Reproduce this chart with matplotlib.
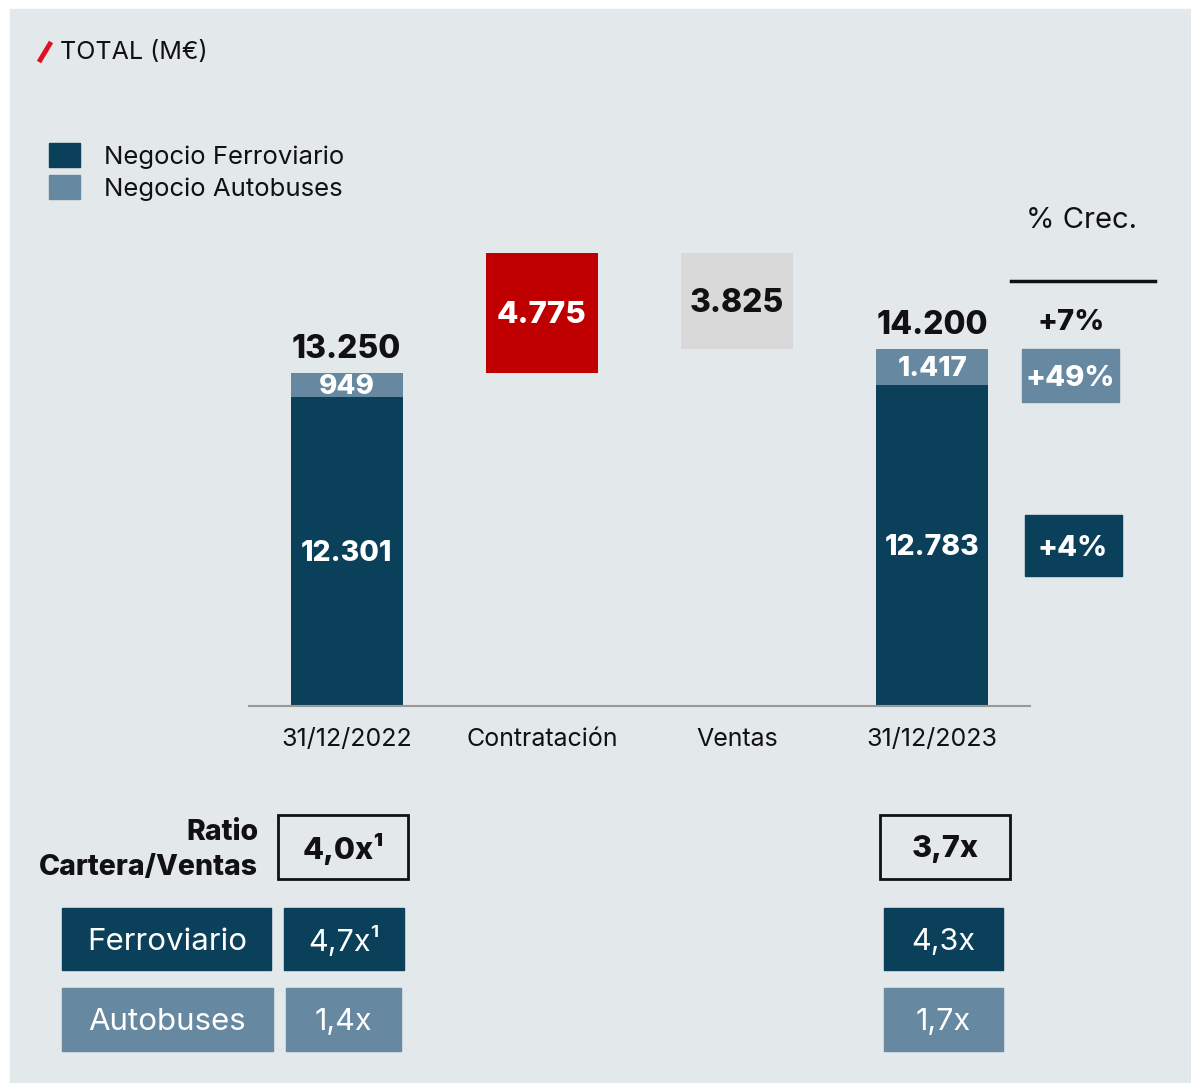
import matplotlib.pyplot as plt
from matplotlib.patches import Rectangle

plt.rcParams['font.family'] = ['Inter', 'DejaVu Sans']

# datos (M€)
categorias = ['31/12/2022', 'Contratación', 'Ventas', '31/12/2023']
ferroviario = [12301, 12783]   # 2022, 2023
autobuses = [949, 1417]
totales = [13250, 14200]
contratacion = 4775
ventas = 3825
crec_total = '+7%'
crec_auto = '+49%'
crec_ferro = '+4%'
ratio_total = ['4,0x¹', '3,7x']
ratio_ferro = ['4,7x¹', '4,3x']
ratio_auto = ['1,4x', '1,7x']

def fmt(v):
    return f'{v:,}'.replace(',', '.')

DARK = '#0a405a'
LIGHT = '#6688a0'
RED = '#c00000'
GREY = '#d9d9d9'
BG = '#e3e8eb'
INK = '#111111'
BOLD = 'heavy'
DY = 2  # ajuste vertical del texto (px)

W, H = 1191, 1083
fig = plt.figure(figsize=(W / 100, H / 100), dpi=100, facecolor='white')

# capa de fondo en pixeles
bg = fig.add_axes([0, 0, 1, 1])
bg.set_xlim(0, W)
bg.set_ylim(H, 0)
bg.axis('off')
bg.add_patch(Rectangle((10, 9), W - 10, H - 9, color=BG, zorder=0))

def txt(x, y, s, **kw):
    bg.text(x, y + DY, s, va='center', **kw)

# titulo
bg.plot([39, 51], [62, 42], color='#e01020', lw=3.5, solid_capstyle='butt')
txt(60, 51, 'TOTAL (M€)', fontsize=18, ha='left', color=INK)

# leyenda
for i, (lab, c) in enumerate([('Negocio Ferroviario', DARK), ('Negocio Autobuses', LIGHT)]):
    y = 143 + i * 32
    bg.add_patch(Rectangle((49, y), 31, 24, color=c))
    txt(104, y + 12, lab, fontsize=18.5, ha='left', color=INK)

# grafico de barras
ax_l, ax_r, ax_base, ax_top = 249, 1030, 706, 230
ax = fig.add_axes([ax_l / W, 1 - ax_base / H, (ax_r - ax_l) / W, (ax_base - ax_top) / H])
ax.set_facecolor('none')
px_per_unit = 333 / totales[0]
ax.set_xlim(-0.5, 3.5)
ax.set_ylim(0, (ax_base - ax_top) / px_per_unit)
for s in ['top', 'right', 'left']:
    ax.spines[s].set_visible(False)
ax.spines['bottom'].set_color('#999999')
ax.spines['bottom'].set_linewidth(1.5)
ax.set_yticks([])
ax.set_xticks(range(4))
ax.set_xticklabels(categorias, fontsize=18, color=INK)
ax.tick_params(axis='x', length=0, pad=15.5)

w = 0.573
xs = [0, 3]
ax.bar(xs, ferroviario, w, color=DARK)
ax.bar(xs, autobuses, w, bottom=ferroviario, color=LIGHT)
ax.bar(1, contratacion, w, bottom=totales[0], color=RED)
ax.bar(2, ventas, w, bottom=totales[0] + contratacion - ventas, color=GREY)

def lab(x, y, s, dy=0, **kw):
    ax.annotate(s, (x, y), xytext=(0, dy - DY), textcoords='offset pixels',
                ha='center', va='center', **kw)

for x, f, a, t in zip(xs, ferroviario, autobuses, totales):
    lab(x, f / 2, fmt(f), color='white', fontsize=20.5, fontweight=BOLD)
    lab(x, f + a / 2, fmt(a), color='white', fontsize=20, fontweight=BOLD)
    lab(x, t, fmt(t), dy=26, fontsize=23, fontweight=BOLD, color=INK)
lab(1, totales[0] + contratacion / 2, fmt(contratacion), color='white', fontsize=22.5, fontweight=BOLD)
lab(2, totales[0] + contratacion - ventas / 2, fmt(ventas), color=INK, fontsize=23, fontweight=BOLD)

# columna % crecimiento
txt(1082, 219, '% Crec.', fontsize=21, ha='center', color=INK)
bg.plot([1011, 1155], [281, 281], color=INK, lw=2.5)
txt(1071, 321, crec_total, fontsize=21, fontweight=BOLD, ha='center', color=INK)
bg.add_patch(Rectangle((1022, 349), 97, 53, color=LIGHT))
txt(1070, 376, crec_auto, fontsize=21, fontweight=BOLD, ha='center', color='white')
bg.add_patch(Rectangle((1025, 515), 97, 61, color=DARK))
txt(1073, 546, crec_ferro, fontsize=21, fontweight=BOLD, ha='center', color='white')

# tabla ratio cartera/ventas
txt(258, 831, 'Ratio', fontsize=20.5, fontweight=BOLD, ha='right', color=INK)
txt(258, 865, 'Cartera/Ventas', fontsize=20.5, fontweight=BOLD, ha='right', color=INK)
for (x0, x1), val in zip([(278, 408), (880, 1010)], ratio_total):
    bg.add_patch(Rectangle((x0, 815), x1 - x0, 64, facecolor='none', edgecolor=INK, lw=2))
    txt((x0 + x1) / 2, 847, val, fontsize=22, fontweight=BOLD, ha='center', color=INK)

bg.add_patch(Rectangle((62, 908), 209, 62, color=DARK))
txt(167, 940, 'Ferroviario', fontsize=22.5, ha='center', color='white')
for (x0, x1), val in zip([(284, 404), (884, 1003)], ratio_ferro):
    bg.add_patch(Rectangle((x0, 908), x1 - x0, 62, color=DARK))
    txt((x0 + x1) / 2, 940, val, fontsize=22, ha='center', color='white')

bg.add_patch(Rectangle((62, 988), 211, 63, color=LIGHT))
txt(167, 1020, 'Autobuses', fontsize=22.5, ha='center', color='white')
for (x0, x1), val in zip([(286, 401), (884, 1003)], ratio_auto):
    bg.add_patch(Rectangle((x0, 988), x1 - x0, 63, color=LIGHT))
    txt((x0 + x1) / 2, 1020, val, fontsize=22, ha='center', color='white')

fig.savefig('out.png', dpi=100, facecolor='white')
